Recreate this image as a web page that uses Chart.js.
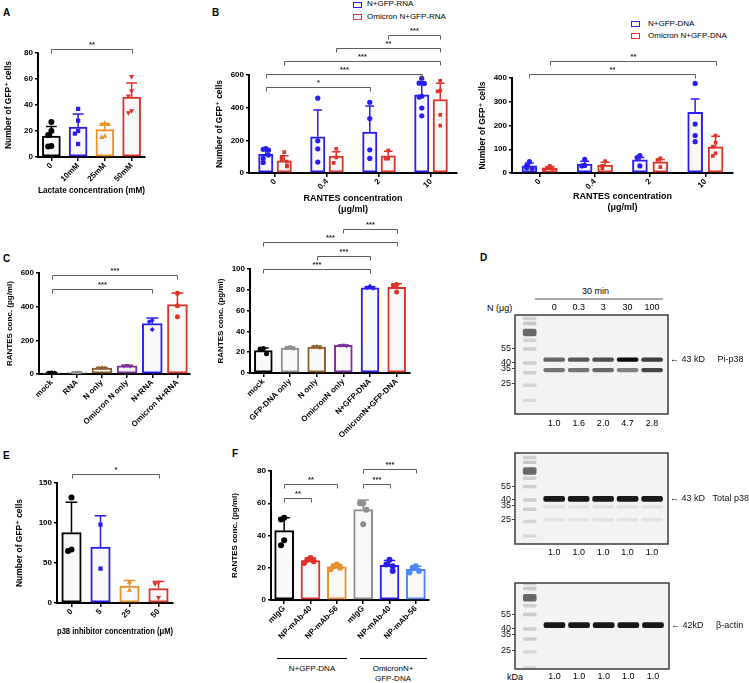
<!DOCTYPE html>
<html><head><meta charset="utf-8">
<title>Figure</title>
<script src="https://cdn.jsdelivr.net/npm/chart.js@4.4.1/dist/chart.umd.min.js"></script>
<style>
html,body{margin:0;padding:0;background:#fff;}
#root{position:relative;width:749px;height:683px;overflow:hidden;font-family:'Liberation Sans',Arial,'DejaVu Sans',sans-serif;color:#000;}
canvas{position:absolute;}
.t{position:absolute;white-space:nowrap;}
.L{font-weight:bold;font-size:10px;line-height:10px;}
.lg{font-size:8px;line-height:8px;}
.sw{position:absolute;width:7px;height:4px;background:#fff;}
.ln{position:absolute;height:0;}
</style></head>
<body><div id="root">
<div class="t L" style="left:3px;top:8px">A</div>
<div class="t L" style="left:212px;top:8px">B</div>
<div class="t L" style="left:3px;top:254px">C</div>
<div class="t L" style="left:480px;top:253px">D</div>
<div class="t L" style="left:3px;top:451px">E</div>
<div class="t L" style="left:232px;top:449px">F</div>

<div class="sw" style="left:353px;top:2px;border:1.5px solid #2a1cf5"></div>
<div class="t lg" id="lgB1a" style="left:367px;top:0px"></div>
<div class="sw" style="left:353px;top:14px;border:1.5px solid #dd3328"></div>
<div class="t lg" id="lgB1b" style="left:367px;top:12.5px"></div>
<div class="sw" style="left:631px;top:20.5px;border:1.5px solid #2a1cf5"></div>
<div class="t lg" id="lgB2a" style="left:648px;top:20px"></div>
<div class="sw" style="left:631px;top:32.5px;border:1.5px solid #dd3328"></div>
<div class="t lg" id="lgB2b" style="left:648px;top:31.5px"></div>

<div class="t" style="left:582px;top:287px;font-size:9px;line-height:9px">30 min</div>
<div class="ln" style="left:535px;top:298px;width:128px;border-top:2px solid #a8a8a8"></div>
<div class="t" style="left:487px;top:303.5px;font-size:9px;line-height:9px">N (μg)</div>
<div class="t" style="left:507px;top:672.5px;font-size:9px;line-height:9px">kDa</div>

<div class="ln" style="left:277px;top:658px;width:70px;border-top:1px solid #000"></div>
<div class="ln" style="left:360px;top:658px;width:67px;border-top:1px solid #000"></div>
<div class="t" id="fg1" style="left:262px;top:664px;width:100px;text-align:center;font-size:8px;line-height:9px"></div>
<div class="t" id="fg2" style="left:343px;top:663.5px;width:100px;text-align:center;font-size:8px;line-height:10px;white-space:pre"></div>
</div>
<script>
// ================= DATA =================
// Panel A
const aCats = ['0', '10mM', '25mM', '50mM'];
const aMean = [16, 23, 21, 46];
const aSD = [7.5, 10, 4.5, 11];
const aPts = [[27, 20, 17, 8.5, 8], [37, 28, 20, 18, 10], [26, 25, 25, 16, 15], [62, 51, 47, 35.5, 34]];
const aSig = [[0, 3, '**', 0]];

// Panel B (RNA)
const bCats = ['0', '0.4', '2', '10'];
const bRnaNames = ['N+GFP-RNA', 'Omicron N+GFP-RNA'];
const bRnaNMean = [115, 222, 250, 478];
const bRnaNSD = [25, 163, 160, 80];
const bRnaNPts = [[150, 145, 140, 110, 90, 65], [458, 197, 148, 67], [433, 333, 142, 89], [580, 550, 548, 470, 465, 398, 350]];
const bRnaOMean = [75, 103, 105, 450];
const bRnaOSD = [30, 27, 28, 100];
const bRnaOPts = [[128, 95, 80, 70, 45, 40], [148, 95, 62], [138, 88, 88], [565, 505, 500, 356, 290]];
const bRnaSig = [[[0, 0], [2, 0], '*', 0], [[0, 0], [3, 0], '***', 1], [[0, 1], [3, 1], '***', 2], [[1, 1], [3, 1], '**', 3], [[2, 1], [3, 1], '***', 4]];

// Panel B (DNA)
const bDnaNames = ['N+GFP-DNA', 'Omicron N+GFP-DNA'];
const bDnaNMean = [30, 38, 55, 255];
const bDnaNSD = [12, 12, 10, 57];
const bDnaNPts = [[48, 30, 22, 20], [57, 32, 30], [73, 65, 30], [377, 206, 158, 132]];
const bDnaOMean = [20, 33, 47, 110];
const bDnaOSD = [7, 12, 10, 45];
const bDnaOPts = [[30, 20, 17, 15], [50, 30, 20], [62, 55, 25], [158, 128, 111, 83, 72]];
const bDnaSig = [[[0, 0], [3, 0], '**', 0], [[0, 1], [3, 1], '**', 1]];

// Panel C (RNA)
const cRnaCats = ['mock', 'RNA', 'N only', 'Omicron N only', 'N+RNA', 'Omicron N+RNA'];
const cRnaMean = [5, 8, 35, 48, 300, 412];
const cRnaSD = [1, 1, 3, 4, 32, 69];
const cRnaPts = [[6, 5, 4], [8, 7, 8], [38, 35, 35], [52, 47, 46], [320, 310, 265], [480, 405, 340]];
const cRnaSig = [[0, 4, '***', 0], [0, 5, '***', 1]];

// Panel C (DNA)
const cDnaCats = ['mock', 'GFP-DNA only', 'N only', 'OmicronN only', 'N+GFP-DNA', 'OmicronN+GFP-DNA'];
const cDnaMean = [21.5, 24, 25, 26.5, 82, 82.3];
const cDnaSD = [2.5, 1, 1, 0.5, 1, 3.5];
const cDnaPts = [[23.5, 23, 18.5], [25, 24, 23.5], [25.5, 25, 24], [27, 26.5, 26], [83.5, 82, 81.5], [85, 84, 78]];
const cDnaSig = [[0, 4, '***', 0], [2, 4, '***', 1], [0, 5, '***', 2], [3, 5, '***', 3]];

// Panel D (western blots)
const dLanes = ['0', '0.3', '3', '30', '100'];
const dMarkers = [25, 35, 40, 55];
const dPhospho = [1.0, 1.6, 2.0, 4.7, 2.8];
const dTotal = [1.0, 1.0, 1.0, 1.0, 1.0];
const dActin = [1.0, 1.0, 1.0, 1.0, 1.0];
const dLowerBand = [0.55, 0.55, 0.6, 0.5, 0.75];
const dTotalFaint = [0.07, 0.06, 0.08, 0.07, 0.07];
const ladderKDa = [110, 98, 80, 67, 55, 40, 32, 24, 17];
const ladderDark = [0.2, 0.25, 0.8, 0.2, 0.22, 0.22, 0.22, 0.18, 0.15];

// Panel E
const eCats = ['0', '5', '25', '50'];
const eMean = [88, 70, 21, 18];
const eSD = [38, 39, 7, 9];
const ePts = [[132, 67, 65], [98, 43], [26, 16], [26, 24, 7]];
const eSig = [[0, 3, '*', 0]];

// Panel F
const fCats = ['mIgG', 'NP-mAb-40', 'NP-mAb-56', 'mIgG', 'NP-mAb-40', 'NP-mAb-56'];
const fGroups = ['N+GFP-DNA', 'OmicronN+\nGFP-DNA'];
const fMean = [43, 24.5, 20.5, 56, 21.5, 19];
const fSD = [8, 1.5, 1.5, 6, 3, 2];
const fPts = [[51, 50, 37, 34], [26, 25, 24, 23], [22, 21, 20, 19], [60, 60, 56, 47], [25, 22, 21, 18], [21, 20, 18, 17]];
const fSig = [[0, 1, '**', 0], [0, 2, '**', 1], [3, 4, '***', 1], [3, 5, '***', 2]];

// ================= STYLE =================
const FONT = "'Liberation Sans', Arial, 'DejaVu Sans', sans-serif";
Chart.defaults.font.family = FONT;
Chart.defaults.color = '#000';
const COL = {black: '#000000', blue: '#2a1cf5', orange: '#e8912d', red: '#dd3328', gray: '#8f8f8f',
  brown: '#8d5f2c', purple: '#7b2f9b', lblue: '#4f86f7'};
const ladderH = [1.4, 1.4, 3.4, 1.4, 1.4, 1.4, 1.4, 1.4, 1.3];

document.getElementById('lgB1a').textContent = bRnaNames[0];
document.getElementById('lgB1b').textContent = bRnaNames[1];
document.getElementById('lgB2a').textContent = bDnaNames[0];
document.getElementById('lgB2b').textContent = bDnaNames[1];
document.getElementById('fg1').textContent = fGroups[0];
document.getElementById('fg2').textContent = fGroups[1];

const root = document.getElementById('root');
function mk(b) {
  const c = document.createElement('canvas');
  c.width = b.w; c.height = b.h;
  c.style.left = b.x + 'px'; c.style.top = b.y + 'px';
  c.style.width = b.w + 'px'; c.style.height = b.h + 'px';
  root.appendChild(c);
  return c;
}

// horizontal spread of replicate dots that would overlap
function spread(vals, tol, step) {
  const pat = [0, -1, 1, -2, 2, -3, 3];
  return vals.map((v, k) => {
    let c = 0;
    for (let j = 0; j < k; j++) if (Math.abs(vals[j] - v) < tol) c++;
    return pat[Math.min(c, pat.length - 1)] * step;
  });
}

const errPlugin = {
  id: 'errbars',
  afterDatasetDraw(chart, args) {
    const ds = chart.data.datasets[args.index];
    if (!ds.sd) return;
    const ys = chart.scales.y, ctx = chart.ctx;
    ctx.save();
    args.meta.data.forEach((el, i) => {
      const top = ys.getPixelForValue(ds.data[i].y + ds.sd[i]);
      const col = Array.isArray(ds.borderColor) ? ds.borderColor[i] : ds.borderColor;
      const w = el.width * 0.3;
      ctx.strokeStyle = col; ctx.lineWidth = 1.5;
      ctx.beginPath();
      ctx.moveTo(el.x, el.y); ctx.lineTo(el.x, top);
      ctx.moveTo(el.x - w, top); ctx.lineTo(el.x + w, top);
      ctx.stroke();
    });
    ctx.restore();
  }
};

function sigPlugin(list, base, step, posFn) {
  return {
    id: 'sig',
    afterDraw(c) {
      const ctx = c.ctx, xp = c.scales.xp, top = c.chartArea.top;
      ctx.save();
      ctx.strokeStyle = '#5c5c5c'; ctx.lineWidth = 1; ctx.fillStyle = '#222';
      ctx.font = 'bold 7.5px ' + FONT; ctx.textAlign = 'center'; ctx.textBaseline = 'bottom';
      list.forEach(([a, b, lab, lv]) => {
        const xa = Math.round(xp.getPixelForValue(posFn(a))) + 0.5;
        const xb = Math.round(xp.getPixelForValue(posFn(b))) + 0.5;
        const y = Math.round(top + base - lv * step) + 0.5;
        ctx.beginPath();
        ctx.moveTo(xa, y + 4); ctx.lineTo(xa, y); ctx.lineTo(xb, y); ctx.lineTo(xb, y + 4);
        ctx.stroke();
        ctx.fillText(lab, (xa + xb) / 2, y - 0.5);
      });
      ctx.restore();
    }
  };
}

function barChart(o) {
  const cv = mk(o.box);
  const n = o.cats.length, ns = o.series.length;
  const slot = o.catPct / ns;
  const off = s => (s - (ns - 1) / 2) * slot;
  const catW = (o.box.w - o.pad.left - o.pad.right - o.yW) / n;
  const barPx = catW * slot * o.barPct;
  const ds = [];
  o.series.forEach((s, si) => {
    const colAt = i => Array.isArray(s.color) ? s.color[i] : s.color;
    const styAt = i => Array.isArray(s.style) ? s.style[i] : s.style;
    ds.push({type: 'bar', data: s.mean.map((v, i) => ({x: i + off(si), y: v})), sd: s.sd, backgroundColor: '#f9f9f9',
      borderColor: o.cats.map((c, i) => colAt(i)), borderWidth: 2, borderSkipped: false,
      grouped: false, barThickness: barPx, xAxisID: 'xp', yAxisID: 'y', order: 2});
    const pts = [], pc = [], ps = [], pr = [];
    s.pts.forEach((vals, i) => {
      const offs = spread(vals, o.y.max * 0.06, o.jit);
      vals.forEach((v, k) => {
        pts.push({x: i + off(si) + offs[k], y: v});
        pc.push(colAt(i));
        const st = styAt(i);
        ps.push(st === 'tdown' ? 'triangle' : st);
        pr.push(st === 'tdown' ? 180 : 0);
      });
    });
    ds.push({type: 'scatter', data: pts, xAxisID: 'xp', yAxisID: 'y', pointStyle: ps, pointRotation: pr,
      pointBackgroundColor: pc, pointBorderColor: pc, pointBorderWidth: 0, pointRadius: o.r, order: 1});
  });
  const pos = a => Array.isArray(a) ? a[0] + off(a[1]) : a;
  new Chart(cv, {
    type: 'bar',
    data: {labels: o.cats, datasets: ds},
    options: {
      responsive: false, animation: false, devicePixelRatio: 1, events: [],
      layout: {padding: o.pad},
      plugins: {legend: {display: false}, tooltip: {enabled: false}},
      scales: {
        x: {type: 'category', offset: true,
          grid: {offset: false, drawOnChartArea: false, drawTicks: true, tickLength: 4, color: '#000', lineWidth: 1.5},
          border: {display: true, color: '#000', width: 2},
          ticks: {autoSkip: false, minRotation: 45, maxRotation: 45, padding: 0, font: {size: 8, weight: 'bold'}, color: '#000'},
          title: o.xTitle ? {display: true, text: o.xTitle, color: '#000', font: {size: 9, weight: 'bold'}, padding: {top: 0, bottom: o.xTitlePad}} : {display: false},
          afterFit: s => { s.height = o.xH; }},
        xp: {type: 'linear', display: false, offset: false, min: -0.5, max: n - 0.5},
        y: {type: 'linear', min: 0, max: o.y.max, beginAtZero: true,
          ticks: {stepSize: o.y.step, font: {size: 8, weight: 'bold'}, padding: 2, color: '#000'},
          grid: {drawOnChartArea: false, drawTicks: true, tickLength: 3, color: '#000', lineWidth: 1.5},
          border: {display: true, color: '#000', width: 2},
          title: {display: true, text: o.y.title, color: '#000', font: {size: o.y.tsize, weight: 'bold'}, padding: {top: o.y.tpad, bottom: 0}},
          afterFit: s => { s.width = o.yW; }}
      }
    },
    plugins: [errPlugin, sigPlugin(o.sig, o.sigBase, o.sigStep, pos)]
  });
}

const frame = {
  id: 'frame',
  beforeDatasetsDraw(c) {
    const a = c.chartArea, x = c.ctx;
    x.save(); x.fillStyle = '#f3f3f3'; x.fillRect(a.left, a.top, a.width, a.height); x.restore();
  },
  afterDatasetsDraw(c) {
    const a = c.chartArea, x = c.ctx;
    x.save(); x.strokeStyle = '#3c3c3c'; x.lineWidth = 1.5; x.strokeRect(a.left, a.top, a.width, a.height); x.restore();
  }
};

function blotChart(o) {
  const cv = mk(o.box);
  const areaH = o.box.h - o.padTop - o.topH - o.botH;
  const pxu = areaH / Math.log(o.yMax / o.yMin);
  const band = (v, px) => [v * Math.exp(-px / pxu), v * Math.exp(px / pxu)];
  const ds = [{type: 'bar', data: ladderKDa.map((k, i) => ({x: 0, y: band(k, ladderH[i])})),
    backgroundColor: ladderDark.map(a => 'rgba(70,70,70,' + a + ')'), barThickness: 13, grouped: false,
    borderRadius: 2, borderSkipped: false}];
  o.rows.forEach(r => ds.push({type: 'bar', data: r.dark.map((a, i) => ({x: i + 1, y: band(r.kda, r.h)})),
    backgroundColor: r.dark.map(a => 'rgba(12,12,12,' + a + ')'), barThickness: 21, grouped: false,
    borderRadius: 2, borderSkipped: false}));
  const xr = {min: -0.6, max: 5.65};
  new Chart(cv, {
    type: 'bar',
    data: {datasets: ds},
    options: {
      responsive: false, animation: false, devicePixelRatio: 1, events: [],
      layout: {padding: {top: o.padTop, left: 0, right: 0, bottom: 0}},
      plugins: {legend: {display: false}, tooltip: {enabled: false}},
      scales: {
        x: {type: 'linear', position: 'bottom', min: xr.min, max: xr.max, offset: false,
          afterBuildTicks: s => { s.ticks = o.quant.map((q, i) => ({value: i + 1})); },
          ticks: {callback: (v, i) => o.quant[i].toFixed(1), font: {size: 9}, padding: o.botPad, autoSkip: false, maxRotation: 0, minRotation: 0},
          grid: {display: false, drawTicks: false}, border: {display: false},
          afterFit: s => { s.height = o.botH; }},
        xt: {type: 'linear', position: 'top', display: !!o.lanes, min: xr.min, max: xr.max, offset: false,
          afterBuildTicks: s => { s.ticks = dLanes.map((l, i) => ({value: i + 1})); },
          ticks: {callback: (v, i) => dLanes[i], font: {size: 9}, padding: 2, autoSkip: false, maxRotation: 0, minRotation: 0},
          grid: {display: false, drawTicks: false}, border: {display: false},
          afterFit: s => { s.height = o.topH; }},
        y: {type: 'logarithmic', min: o.yMin, max: o.yMax, beginAtZero: false,
          afterBuildTicks: s => { s.ticks = dMarkers.map(v => ({value: v})); },
          ticks: {callback: v => String(v), font: {size: 9}, padding: 1, autoSkip: false, color: '#111'},
          grid: {display: true, drawOnChartArea: false, drawTicks: true, tickLength: 3, color: '#444', lineWidth: 1},
          border: {display: false},
          afterFit: s => { s.width = o.yW; }},
        y2: {type: 'logarithmic', position: 'right', min: o.yMin, max: o.yMax, beginAtZero: false,
          afterBuildTicks: s => { s.ticks = [{value: o.arrowAt}]; },
          ticks: {callback: () => o.arrowLabel, font: {size: 9}, padding: 2, autoSkip: false, color: '#111'},
          grid: {display: false, drawTicks: false}, border: {display: false},
          afterFit: s => { s.width = o.rW; }}
      }
    },
    plugins: [frame]
  });
}

// ================= CHARTS =================
const GFP = 'Number of GFP\u207A cells';
const RANT = 'RANTES conc. (pg/ml)';

barChart({box: {x: 0, y: 30, w: 155, h: 170}, pad: {top: 23, right: 10, bottom: 0, left: 0}, yW: 38, xH: 43,
  cats: aCats, catPct: 0.8, barPct: 0.84, r: 3, jit: 0.12,
  series: [{mean: aMean, sd: aSD, pts: aPts, color: [COL.black, COL.blue, COL.orange, COL.red], style: ['circle', 'rect', 'triangle', 'tdown']}],
  y: {max: 80, step: 20, title: GFP, tsize: 8.5, tpad: 4},
  xTitle: 'Lactate concentration (mM)', xTitlePad: 4,
  sig: aSig, sigBase: -4, sigStep: 13});

barChart({box: {x: 210, y: 0, w: 252, h: 216}, pad: {top: 75, right: 5, bottom: 0, left: 0}, yW: 39, xH: 43,
  cats: bCats, catPct: 0.71, barPct: 0.78, r: 2.6, jit: 0.05,
  series: [{mean: bRnaNMean, sd: bRnaNSD, pts: bRnaNPts, color: COL.blue, style: 'circle'},
           {mean: bRnaOMean, sd: bRnaOSD, pts: bRnaOPts, color: COL.red, style: 'rect'}],
  y: {max: 600, step: 200, title: GFP, tsize: 8.5, tpad: 5},
  xTitle: ['RANTES concentration', '(μg/ml)'], xTitlePad: 1,
  sig: bRnaSig, sigBase: 12, sigStep: 13});

barChart({box: {x: 474, y: 0, w: 266, h: 214}, pad: {top: 78, right: 7, bottom: 0, left: 0}, yW: 38, xH: 41,
  cats: bCats, catPct: 0.74, barPct: 0.73, r: 2.6, jit: 0.05,
  series: [{mean: bDnaNMean, sd: bDnaNSD, pts: bDnaNPts, color: COL.blue, style: 'circle'},
           {mean: bDnaOMean, sd: bDnaOSD, pts: bDnaOPts, color: COL.red, style: 'rect'}],
  y: {max: 400, step: 100, title: GFP, tsize: 8.5, tpad: 4},
  xTitle: ['RANTES concentration', '(μg/ml)'], xTitlePad: 1,
  sig: bDnaSig, sigBase: -4, sigStep: 13});

barChart({box: {x: 0, y: 255, w: 195, h: 178}, pad: {top: 18, right: 5, bottom: 0, left: 0}, yW: 39, xH: 59,
  cats: cRnaCats, catPct: 0.9, barPct: 0.88, r: 2.5, jit: 0.12,
  series: [{mean: cRnaMean, sd: cRnaSD, pts: cRnaPts, color: [COL.black, COL.gray, COL.brown, COL.purple, COL.blue, COL.red], style: ['circle', 'rect', 'triangle', 'tdown', 'rectRot', 'circle']}],
  y: {max: 600, step: 200, title: RANT, tsize: 8, tpad: 5},
  xTitle: null, xTitlePad: 0,
  sig: cRnaSig, sigBase: 16, sigStep: 14});

barChart({box: {x: 212, y: 215, w: 205, h: 230}, pad: {top: 54, right: 7, bottom: 0, left: 0}, yW: 38, xH: 72,
  cats: cDnaCats, catPct: 0.8, barPct: 0.84, r: 2.5, jit: 0.12,
  series: [{mean: cDnaMean, sd: cDnaSD, pts: cDnaPts, color: [COL.black, COL.gray, COL.brown, COL.purple, COL.blue, COL.red], style: ['circle', 'rect', 'triangle', 'tdown', 'rectRot', 'circle']}],
  y: {max: 100, step: 20, title: RANT, tsize: 8, tpad: 4.2},
  xTitle: null, xTitlePad: 0,
  sig: cDnaSig, sigBase: 0, sigStep: 13.5});

barChart({box: {x: 10, y: 455, w: 170, h: 182}, pad: {top: 28, right: 7, bottom: 0, left: 0}, yW: 47, xH: 34,
  cats: eCats, catPct: 0.8, barPct: 0.84, r: 3, jit: 0.12,
  series: [{mean: eMean, sd: eSD, pts: ePts, color: [COL.black, COL.blue, COL.orange, COL.red], style: ['circle', 'rect', 'triangle', 'tdown']}],
  y: {max: 150, step: 50, title: GFP, tsize: 8.5, tpad: 4.9},
  xTitle: 'p38 inhibitor concentration (μM)', xTitlePad: 0,
  sig: eSig, sigBase: -9, sigStep: 13});

barChart({box: {x: 226, y: 445, w: 210, h: 210}, pad: {top: 26, right: 7, bottom: 0, left: 0}, yW: 45, xH: 55,
  cats: fCats, catPct: 0.86, barPct: 0.84, r: 3, jit: 0.12,
  series: [{mean: fMean, sd: fSD, pts: fPts, color: [COL.black, COL.red, COL.orange, COL.gray, COL.blue, COL.lblue], style: 'circle'}],
  y: {max: 80, step: 20, title: RANT, tsize: 8, tpad: 4.2},
  xTitle: null, xTitlePad: 0,
  sig: fSig, sigBase: 27, sigStep: 14.5});

blotChart({box: {x: 490, y: 300, w: 259, h: 132}, padTop: 0, topH: 15, botH: 18, botPad: 4.6, yW: 25, rW: 81,
  yMin: 12.5, yMax: 119, lanes: true, quant: dPhospho,
  rows: [{kda: 43, h: 1.8, dark: dPhospho.map(q => 0.5 + 0.5 * q / 4.7)}, {kda: 34, h: 1.8, dark: dLowerBand}],
  arrowAt: 43, arrowLabel: '\u2190 43 kD     Pi-p38'});

blotChart({box: {x: 490, y: 440, w: 259, h: 120}, padTop: 13, topH: 0, botH: 16, botPad: 3.6, yW: 25, rW: 81,
  yMin: 14, yMax: 122.6, lanes: false, quant: dTotal,
  rows: [{kda: 41, h: 2.6, dark: dTotal.map(() => 0.95)}, {kda: 34, h: 1.4, dark: dTotalFaint}, {kda: 25, h: 1.4, dark: dTotalFaint}],
  arrowAt: 41, arrowLabel: '\u2190 43 kD   Total p38'});

blotChart({box: {x: 490, y: 570, w: 259, h: 113}, padTop: 13, topH: 0, botH: 14, botPad: 2.6, yW: 25, rW: 80,
  yMin: 16.4, yMax: 111, lanes: false, quant: dActin,
  rows: [{kda: 43.5, h: 2.6, dark: dActin.map(() => 0.95)}],
  arrowAt: 43.5, arrowLabel: '\u2190 42kD     \u03B2-actin'});
</script>
</body></html>
